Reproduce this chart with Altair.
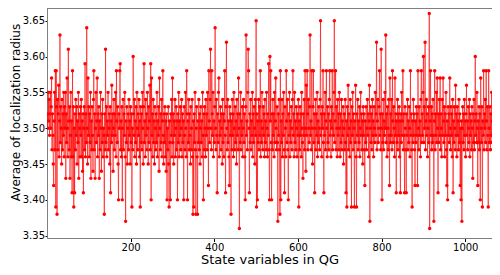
import altair as alt
import pandas as pd

# Average localization radius (in hundredths above 3.00) for state variables 1..1088
block_a = [  # 1-280
    52,50,55,51,54,49,52,55,50,53,57,47,52,49,45,42,51,55,47,58,
    39,58,53,38,54,47,52,56,46,51,63,48,53,50,45,54,47,52,49,55,
    46,53,50,55,43,52,48,57,50,46,61,51,47,53,43,49,55,46,51,41,
    58,46,53,39,50,41,52,47,54,49,53,45,51,48,55,43,52,50,46,53,
    49,54,46,51,44,52,41,50,53,47,59,46,52,48,64,50,45,57,49,53,
    46,52,48,55,43,51,47,53,49,44,54,58,47,52,43,50,55,48,51,57,
    46,52,49,53,43,51,47,55,50,44,52,48,54,46,50,49,38,52,47,61,
    48,53,46,51,49,55,47,50,52,45,53,41,51,48,56,49,52,44,50,54,
    47,52,49,55,46,58,51,48,53,45,40,52,50,58,59,47,51,46,53,40,
    50,54,47,52,49,55,46,37,51,48,53,45,50,52,47,54,49,51,45,53,
    48,52,39,50,47,60,52,49,54,46,51,48,53,45,55,50,47,52,49,54,
    46,51,39,53,48,52,47,55,50,45,53,59,48,51,46,54,49,52,47,55,
    50,45,53,48,51,56,47,59,40,57,49,52,46,54,48,51,45,53,50,47,
    52,48,55,46,51,49,53,44,57,50,47,52,48,54,46,51,58,49,45,52,
]
block_b = [  # 281-560
    48,53,46,51,44,52,40,50,47,53,45,39,51,48,40,52,49,54,46,57,
    48,52,45,51,49,54,46,50,53,47,51,40,52,48,55,46,51,49,53,47,
    50,54,46,52,48,51,40,53,49,47,55,50,46,58,52,40,51,48,54,47,
    52,49,45,53,50,47,54,46,38,51,39,52,48,55,47,38,50,53,46,38,
    51,48,54,47,52,45,50,53,48,51,46,55,49,40,52,47,53,50,46,54,
    49,52,47,55,50,42,58,51,48,54,61,50,47,58,52,49,55,46,51,48,
    53,64,50,47,54,49,41,52,48,55,57,46,51,49,53,47,52,50,45,54,
    48,52,46,51,58,49,41,53,62,50,47,54,48,51,46,42,53,49,52,38,
    51,47,54,49,52,46,55,50,47,53,48,51,45,54,49,52,47,57,50,36,
    52,48,55,47,51,49,53,46,50,54,48,52,46,40,53,63,49,51,47,55,
    61,58,50,41,52,48,54,47,51,49,55,46,52,48,53,50,45,54,49,65,
    39,52,40,51,48,54,47,53,49,58,46,51,48,55,50,47,53,49,52,46,
    54,48,51,47,55,50,46,52,49,59,47,40,60,51,58,48,40,52,47,54,
    49,52,46,55,48,51,57,50,47,53,48,37,52,49,54,47,38,58,40,51,
]
block_c = [  # 561-840
    48,54,46,52,49,55,47,41,53,50,46,58,51,48,54,47,40,52,49,55,
    46,51,48,53,50,47,54,58,49,52,46,55,48,51,47,53,50,46,52,49,
    54,39,51,47,53,49,52,46,55,50,48,43,52,49,54,47,58,50,44,56,
    49,58,52,47,54,50,48,53,63,49,51,47,58,50,45,53,58,48,52,41,
    50,54,47,52,49,55,46,51,48,53,50,47,54,65,49,52,46,53,50,58,
    48,41,52,49,55,47,51,58,50,46,53,48,52,47,54,58,49,51,46,53,
    50,58,47,52,49,55,65,48,51,58,47,53,50,46,54,49,52,47,55,50,
    46,52,48,54,47,51,49,53,45,50,52,47,54,48,41,51,39,53,49,56,
    47,52,50,46,54,48,51,39,53,49,55,47,52,50,39,51,48,56,46,39,
    52,49,54,47,51,48,53,46,50,55,49,52,47,51,45,53,49,52,47,42,
    51,48,53,47,50,54,49,52,46,51,56,37,50,53,48,52,47,54,49,51,
    46,53,50,48,55,49,52,62,47,51,54,48,50,53,58,49,52,47,61,50,
    40,52,48,54,47,51,49,55,50,63,48,52,46,53,50,47,54,49,42,57,
    48,52,49,54,47,58,51,48,53,50,46,57,49,52,41,51,48,54,47,52,
]
block_d = [  # 841-1088
    49,53,46,51,41,52,48,55,49,51,58,47,52,49,41,53,50,47,41,52,
    49,54,47,51,48,53,50,46,58,49,52,47,39,51,48,54,49,52,47,42,
    51,48,53,49,52,42,58,50,47,53,49,51,46,54,58,48,52,49,55,60,
    48,53,50,62,47,51,54,49,52,46,50,53,48,66,36,51,58,49,53,47,
    52,48,54,49,37,51,58,47,52,49,55,48,57,50,41,52,48,54,49,57,
    47,52,50,46,54,49,57,51,48,53,46,52,49,55,47,42,51,40,53,49,
    52,48,57,50,47,53,49,52,46,54,41,51,48,53,50,47,56,49,52,46,
    53,49,51,47,54,48,52,42,50,40,51,37,50,53,48,52,47,54,49,51,
    46,52,56,49,51,47,53,50,48,54,46,52,49,51,47,53,50,43,52,48,
    54,47,51,60,49,52,48,55,50,42,51,48,53,47,52,40,57,50,48,53,
    39,51,49,58,47,52,50,54,48,58,51,47,53,49,39,58,50,48,53,47,
    52,49,55,48,51,47,53,50,46,54,49,52,58,48,51,47,58,50,53,49,
    42,51,48,54,47,52,50,53,
]
y_ticks = [3.35, 3.40, 3.45, 3.50, 3.55, 3.60, 3.65]
x_ticks = [200, 400, 600, 800, 1000]

hund = block_a + block_b + block_c + block_d
df = pd.DataFrame({
    "idx": list(range(1, len(hund) + 1)),
    "radius": [3 + h / 100 for h in hund],
})

W, H = 445, 230
xscale = alt.Scale(domain=[0, 1064], nice=False, zero=False)
yscale = alt.Scale(domain=[3.3468, 3.6677], nice=False, zero=False)

FRAME = "#808080"
xenc = alt.X("idx:Q", scale=xscale,
             axis=alt.Axis(values=x_ticks, format="d", title="State variables in QG", grid=False,
                           labelFontSize=10, titleFontSize=13, tickSize=3.5,
                           labelPadding=1, titlePadding=1, domain=True, domainColor=FRAME,
                           tickColor="#000", labelColor="#000", labelFlush=False))
yenc = alt.Y("radius:Q", scale=yscale,
             axis=alt.Axis(values=y_ticks, format=".2f", title="Average of localization radius",
                           grid=False, labelFontSize=10, titleFontSize=12, tickSize=2,
                           labelPadding=0.5, domain=True, domainColor=FRAME,
                           titleX=-32, titleY=104, titleBaseline="middle", titleAlign="center",
                           titleAngle=270,
                           tickColor="#000", labelColor="#000"))

line = alt.Chart(df).mark_line(color="red", strokeWidth=1, opacity=0.6, clip=True).encode(x=xenc, y=yenc)
pts = alt.Chart(df).mark_circle(color="red", size=12, opacity=1, clip=True).encode(x=xenc, y=yenc)
top = alt.Chart(df).mark_rule(color=FRAME, strokeWidth=1).encode(
    x=alt.value(0), x2=alt.value(W), y=alt.value(0.5))

chart = alt.layer(line, pts, top).properties(
    width=W, height=H,
    padding={"left": 39, "top": 0, "right": 0, "bottom": 29},
    autosize=alt.AutoSizeParams(type="none"),
).configure_view(strokeWidth=0).configure_axis(
    labelFont="DejaVu Sans", titleFont="DejaVu Sans", titleFontWeight="normal", titleColor="#000"
)

chart.save("out.html", embed_options={"renderer": "svg", "actions": False})
